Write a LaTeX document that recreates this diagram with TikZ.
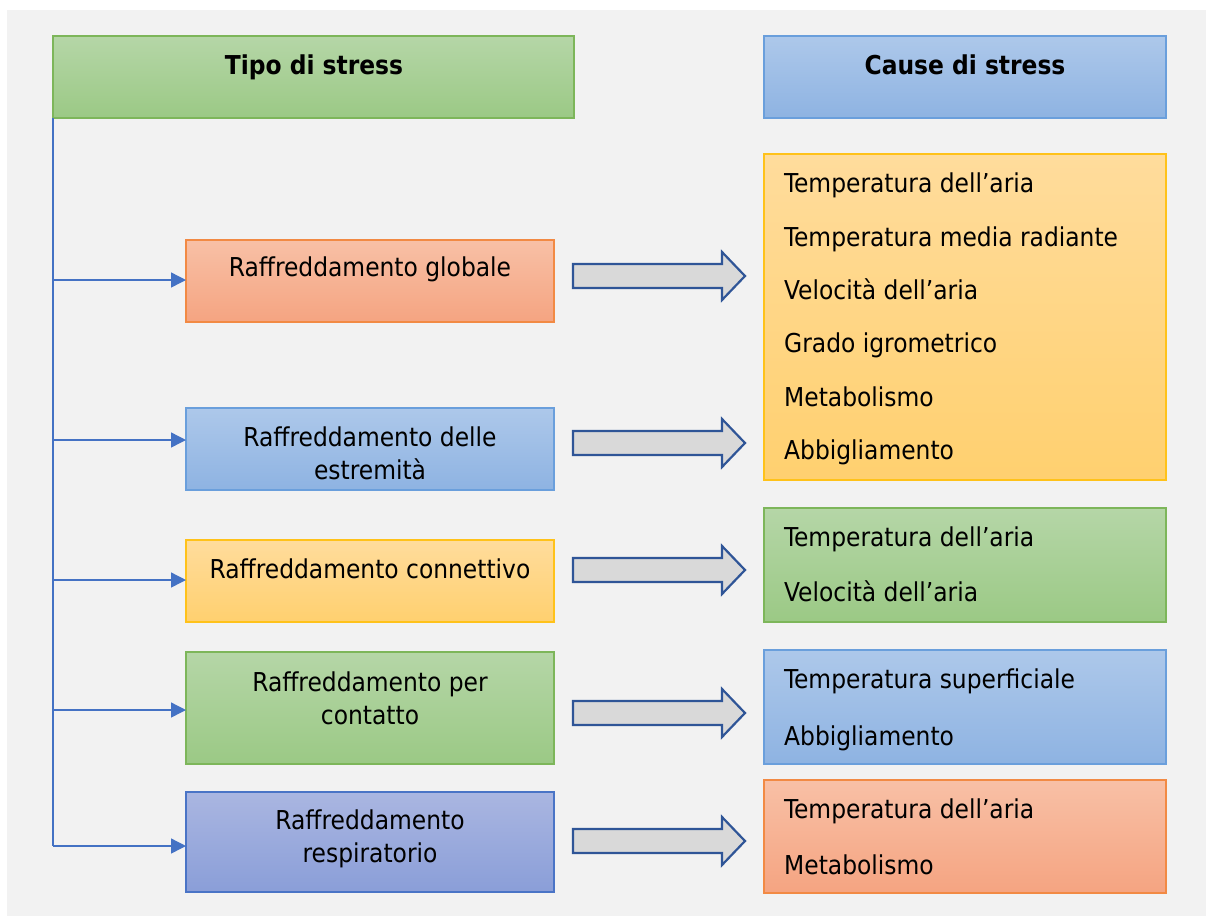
\documentclass[tikz,border=0pt]{standalone}
\usepackage{fontspec}
\setmainfont{DejaVu Sans Condensed}
\usetikzlibrary{arrows.meta}

\definecolor{pagebg}{HTML}{F2F2F2}
\definecolor{greenTop}{HTML}{B5D6A7}
\definecolor{greenBot}{HTML}{9BC985}
\definecolor{greenLine}{HTML}{7DB65A}
\definecolor{blueTop}{HTML}{ADC8EA}
\definecolor{blueBot}{HTML}{8EB3E2}
\definecolor{blueLine}{HTML}{6A9FDC}
\definecolor{orangeTop}{HTML}{F8C0A6}
\definecolor{orangeBot}{HTML}{F5A481}
\definecolor{orangeLine}{HTML}{F28A44}
\definecolor{yellowTop}{HTML}{FFDC9C}
\definecolor{yellowBot}{HTML}{FFD06F}
\definecolor{yellowLine}{HTML}{FFC21A}
\definecolor{indigoTop}{HTML}{AAB6E1}
\definecolor{indigoBot}{HTML}{8A9ED8}
\definecolor{indigoLine}{HTML}{4A74C6}
\definecolor{connBlue}{HTML}{4472C4}
\definecolor{shaftGray}{HTML}{D9D9D9}
\definecolor{shaftLine}{HTML}{2F5597}

\tikzset{
  box/.style={anchor=north west, inner sep=0pt, outer sep=0pt, line width=1.5pt},
  greenbox/.style={box, draw=greenLine, top color=greenTop, bottom color=greenBot},
  bluebox/.style={box, draw=blueLine, top color=blueTop, bottom color=blueBot},
  orangebox/.style={box, draw=orangeLine, top color=orangeTop, bottom color=orangeBot},
  yellowbox/.style={box, draw=yellowLine, top color=yellowTop, bottom color=yellowBot},
  indigobox/.style={box, draw=indigoLine, top color=indigoTop, bottom color=indigoBot},
  leftbox/.style={minimum width=368pt},
  rightbox/.style={minimum width=402pt},
  head/.style={font=\fontsize{26}{30}\selectfont\bfseries, inner sep=0pt, anchor=base},
  ctext/.style={font=\fontsize{26}{33}\selectfont, align=center, inner sep=0pt},
  item/.style={font=\fontsize{26}{30}\selectfont, anchor=base west, inner sep=0pt},
  trunk/.style={draw=connBlue, line width=1.4pt},
  branch/.style={draw=connBlue, line width=1.4pt, -{Triangle[length=15pt,width=15pt]}},
  blockarrow/.style={draw=shaftLine, fill=shaftGray, line width=2.2pt, line join=miter},
}

% block arrow: shaft 24 high, head 48 high, total length 172
\newcommand{\fatarrow}[1]{%
  \draw[blockarrow] (#1) ++(0,-12) -- ++(149,0) -- ++(0,-12) -- ++(23,24)
    -- ++(-23,24) -- ++(0,-12) -- ++(-149,0) -- cycle;}

\begin{document}
\begin{tikzpicture}[x=1pt,y=-1pt]
\useasboundingbox (0,0) rectangle (1206,916);
\fill[pagebg] (7,10) rectangle (1206,916);

% column headers
\node[greenbox, minimum width=521pt, minimum height=82pt] (hleft) at (53,36) {};
\node[bluebox, minimum width=402pt, minimum height=82pt] (hright) at (764,36) {};
\node[head] (tleft) at (314,74) {Tipo di stress};
\node[head] (tright) at (965,74) {Cause di stress};

% stress types
\node[orangebox, leftbox, minimum height=82pt] (s1) at (186,240) {};
\node[bluebox, leftbox, minimum height=82pt] (s2) at (186,408) {};
\node[yellowbox, leftbox, minimum height=82pt] (s3) at (186,540) {};
\node[greenbox, leftbox, minimum height=112pt] (s4) at (186,652) {};
\node[indigobox, leftbox, minimum height=100pt] (s5) at (186,792) {};

\node[ctext] (t1) at (370,269) {Raffreddamento globale};
\node[ctext] (t2) at (370,453) {Raffreddamento delle\\estremità};
\node[ctext] (t3) at (370,569) {Raffreddamento connettivo};
\node[ctext] (t4) at (370,698) {Raffreddamento per\\contatto};
\node[ctext] (t5) at (370,839) {Raffreddamento\\respiratorio};

% tree of connectors
\coordinate (j1) at (53,280);
\coordinate (j2) at (53,440);
\coordinate (j3) at (53,580);
\coordinate (j4) at (53,710);
\coordinate (j5) at (53,846);
\draw[trunk] (hleft.south west) -- (j5);
\draw[branch] (j1) -- (j1 -| s1.west);
\draw[branch] (j2) -- (j2 -| s2.west);
\draw[branch] (j3) -- (j3 -| s3.west);
\draw[branch] (j4) -- (j4 -| s4.west);
\draw[branch] (j5) -- (j5 -| s5.west);

% causes
\node[yellowbox, rightbox, minimum height=326pt] (c1) at (764,154) {};
\node[greenbox, rightbox, minimum height=114pt] (c2) at (764,508) {};
\node[bluebox, rightbox, minimum height=114pt] (c3) at (764,650) {};
\node[orangebox, rightbox, minimum height=113pt] (c4) at (764,780) {};

\node[item] (c1a) at (784,192) {Temperatura dell’aria};
\node[item] (c1b) at (784,246) {Temperatura media radiante};
\node[item] (c1c) at (784,299) {Velocità dell’aria};
\node[item] (c1d) at (784,352) {Grado igrometrico};
\node[item] (c1e) at (784,406) {Metabolismo};
\node[item] (c1f) at (784,459) {Abbigliamento};

\node[item] (c2a) at (784,546) {Temperatura dell’aria};
\node[item] (c2b) at (784,601) {Velocità dell’aria};

\node[item] (c3a) at (784,688) {Temperatura superficiale};
\node[item] (c3b) at (784,745) {Abbigliamento};

\node[item] (c4a) at (784,818) {Temperatura dell’aria};
\node[item] (c4b) at (784,874) {Metabolismo};

% block arrows from each stress type to its causes
\coordinate (a1) at (573,276);
\coordinate (a2) at (573,443);
\coordinate (a3) at (573,570);
\coordinate (a4) at (573,713);
\coordinate (a5) at (573,841);
\fatarrow{a1}
\fatarrow{a2}
\fatarrow{a3}
\fatarrow{a4}
\fatarrow{a5}
\end{tikzpicture}
\end{document}
